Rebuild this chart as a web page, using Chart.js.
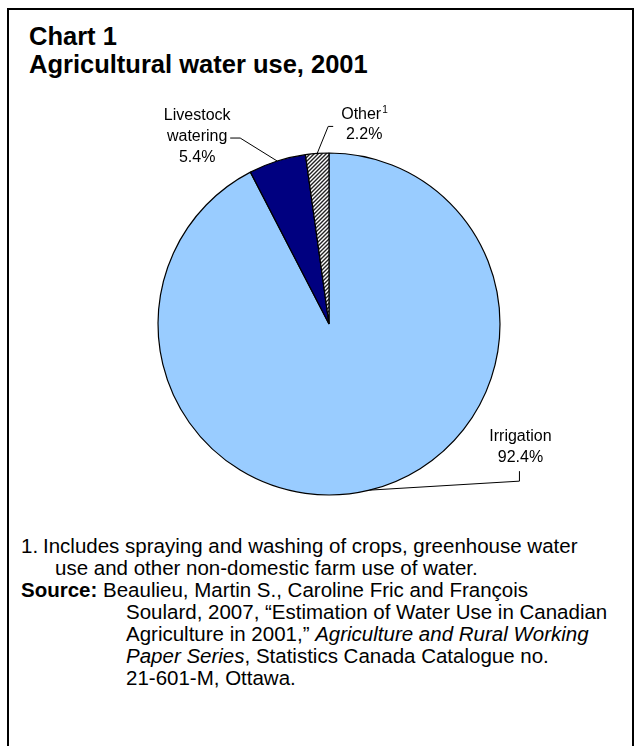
<!DOCTYPE html>
<html lang="en">
<head>
<meta charset="UTF-8">
<title>Agricultural water use, 2001</title>
<script src="https://cdn.jsdelivr.net/npm/chart.js"></script>
<style>
    html, body { margin: 0; padding: 0; background: #fff; }
    body { width: 635px; height: 746px; position: relative; overflow: hidden; font-family: "Liberation Sans", Arial, sans-serif; color: #000; }
    .frame { position: absolute; left: 7px; top: 8px; width: 623px; height: 800px; border: 2px solid #000; border-bottom: none; }
    .title { position: absolute; left: 29px; top: 22px; font-weight: bold; font-size: 25.5px; line-height: 28px; white-space: nowrap; }
    .chart-box { position: absolute; left: 0; top: 0; width: 635px; height: 520px; }
    .notes { position: absolute; left: 21px; top: 535px; font-size: 20.5px; line-height: 22px; white-space: nowrap; }
    .notes .num { display: inline-block; width: 22px; }
    .notes .c1 { padding-left: 34px; }
    .notes .c2 { padding-left: 105px; }
</style>
</head>
<body>
<div class="frame"></div>
<div class="title">Chart 1<br>Agricultural water use, 2001</div>
<div class="chart-box"><canvas id="pie"></canvas></div>

<div class="notes">
    <div><span class="num">1.</span>Includes spraying and washing of crops, greenhouse water</div>
    <div class="c1">use and other non-domestic farm use of water.</div>
    <div><b>Source:</b> Beaulieu, Martin S., Caroline Fric and François</div>
    <div class="c2">Soulard, 2007, “Estimation of Water Use in Canadian</div>
    <div class="c2">Agriculture in 2001,” <i>Agriculture and Rural Working</i></div>
    <div class="c2"><i>Paper Series</i>, Statistics Canada Catalogue no.</div>
    <div class="c2">21-601-M, Ottawa.</div>
</div>

<script>
    // data
    const categories = ['Irrigation', 'Livestock watering', 'Other'];
    const labelLines = [['Irrigation'], ['Livestock', 'watering'], ['Other']];
    const footMarks = ['', '', '1'];
    const shares = [92.4, 5.4, 2.2];

    // hatched fill for "Other"
    function hatch() {
        const c = document.createElement('canvas');
        c.width = 4; c.height = 4;
        const g = c.getContext('2d');
        g.fillStyle = '#fff';
        g.fillRect(0, 0, 4, 4);
        g.strokeStyle = '#222';
        g.lineWidth = 1.4;
        g.beginPath();
        g.moveTo(0, 4); g.lineTo(4, 0);
        g.moveTo(-1, 1); g.lineTo(1, -1);
        g.moveTo(3, 5); g.lineTo(5, 3);
        g.stroke();
        return g.createPattern(c, 'repeat');
    }

    // label placement relative to the slice edge point (layout only)
    const labelLayout = [
        { dx: 151, dy: -49, lh: 21, path: [[150, -9], [150, -19]] },
        { dx: -80, dy: -41, lh: 21, path: [[-37, -23], [-47, -23]] },
        { dx: 47, dy: -34, lh: 20, path: [[11, -27], [16, -27]] }
    ];

    const sliceLabels = {
        id: 'sliceLabels',
        afterDatasetsDraw(chart) {
            const ctx = chart.ctx;
            const arcs = chart.getDatasetMeta(0).data;
            ctx.save();
            ctx.font = '16px "Liberation Sans", Arial, sans-serif';
            ctx.fillStyle = '#000';
            ctx.strokeStyle = '#000';
            ctx.lineWidth = 1;
            arcs.forEach((arc, i) => {
                const p = arc.getProps(['x', 'y', 'startAngle', 'endAngle', 'outerRadius'], true);
                const mid = (p.startAngle + p.endAngle) / 2;
                const ex = p.x + Math.cos(mid) * p.outerRadius;
                const ey = p.y + Math.sin(mid) * p.outerRadius;
                const L = labelLayout[i];

                ctx.beginPath();
                ctx.moveTo(ex, ey);
                L.path.forEach(q => ctx.lineTo(ex + q[0], ey + q[1]));
                ctx.stroke();

                const lines = labelLines[i].concat([shares[i].toFixed(1) + '%']);
                const cx = ex + L.dx;
                let by = ey + L.dy;
                ctx.textAlign = 'center';
                ctx.textBaseline = 'alphabetic';
                lines.forEach((t, k) => {
                    if (k === 0 && footMarks[i]) {
                        const w = ctx.measureText(t).width;
                        ctx.textAlign = 'left';
                        ctx.fillText(t, cx - w / 2 - 3, by);
                        ctx.font = '10px "Liberation Sans", Arial, sans-serif';
                        ctx.fillText(footMarks[i], cx + w / 2 - 2, by - 6);
                        ctx.font = '16px "Liberation Sans", Arial, sans-serif';
                        ctx.textAlign = 'center';
                    } else {
                        ctx.fillText(t, cx, by);
                    }
                    by += L.lh;
                });
            });
            ctx.restore();
        }
    };

    new Chart(document.getElementById('pie'), {
        type: 'pie',
        data: {
            labels: categories,
            datasets: [{
                data: shares,
                backgroundColor: ['#99ccff', '#000080', hatch()],
                borderColor: '#000',
                borderWidth: 1.2,
                hoverOffset: 0,
                offset: 0,
                radius: 171
            }]
        },
        options: {
            responsive: true,
            maintainAspectRatio: false,
            animation: false,
            events: [],
            layout: { padding: { left: 157, right: 134, top: 153, bottom: 25 } },
            plugins: { legend: { display: false }, tooltip: { enabled: false } }
        },
        plugins: [sliceLabels]
    });
</script>
</body>
</html>
